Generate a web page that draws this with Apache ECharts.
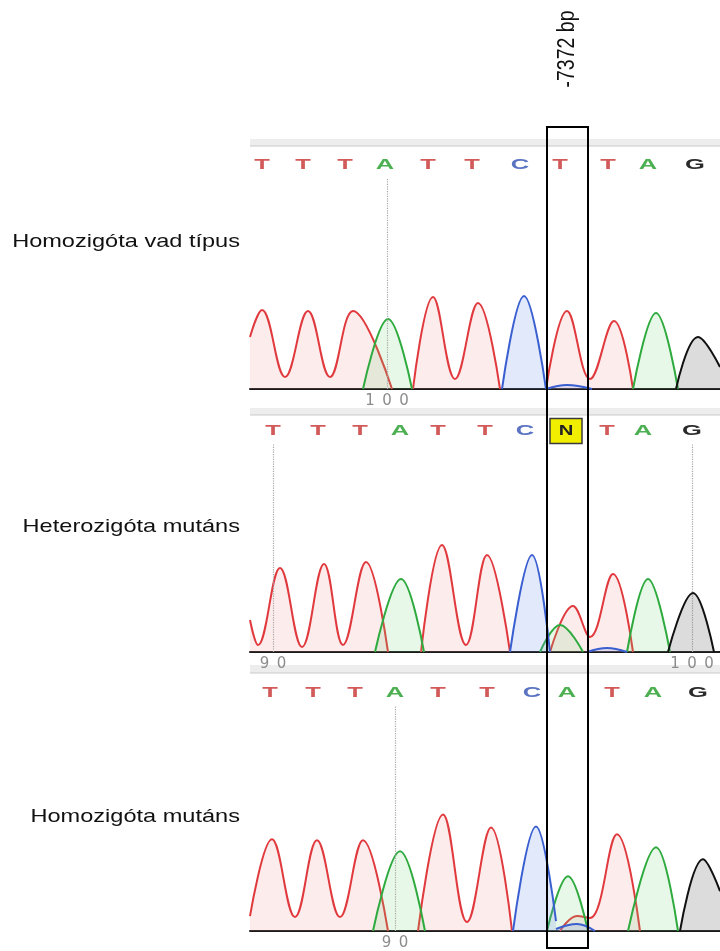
<!DOCTYPE html>
<html><head><meta charset="utf-8">
<script src="https://cdn.jsdelivr.net/npm/echarts@6/dist/echarts.min.js"></script>
<style>html,body{margin:0;padding:0;background:#fff}#c{width:720px;height:951px}</style>
</head><body><div id="c"></div>
<script>
// ---- data ----
const sampleLabels = ['Homozigóta vad típus', 'Heterozigóta mutáns', 'Homozigóta mutáns'];
const positionLabel = '-7372 bp';
const highlightRange = [547, 588];

const bases1 = ['T','T','T','A','T','T','C','T','T','A','G'];
const basePos1 = [262,303,345,385,428,472,520,560,608,648,695];
const bases2 = ['T','T','T','A','T','T','C','N','T','A','G'];
const basePos2 = [273,318,360,400,438,485,525,566,607,643,692];
const bases3 = ['T','T','T','A','T','T','C','A','T','A','G'];
const basePos3 = [270,313,355,395,438,487,532,567,612,653,698];

const tickPos1 = [387], tickLabels1 = ['100'];
const tickPos2 = [273, 692], tickLabels2 = ['90', '100'];
const tickPos3 = [395], tickLabels3 = ['90'];

// traces: list of continuous segments of [scan position, signal]
const traceT1 = [
  [[250,52],[262,79],[285,12],[308,78],[330,12],[353,78],[392,0]],
  [[413,0],[433,92],[455,10],[478,86],[500,0]],
  [[546,0],[567,78],[590,10],[614,68],[633,0]]
];
const traceA1 = [[[363,0],[388,70],[412,0]], [[633,0],[656,76],[678,0]]];
const traceC1 = [[[502,0],[524,93],[546,0]], [[546,0],[567,4],[592,0]]];
const traceG1 = [[[676,0],[698,52],[720,22]]];

const traceT2 = [
  [[250,32],[258,7],[280,84],[302,5],[324,88],[343,7],[366,90],[388,0]],
  [[421,0],[442,107],[466,7],[487,97],[510,0]],
  [[550,0],[573,46],[590,15],[613,78],[633,0]]
];
const traceA2 = [[[375,0],[401,73],[424,0]], [[540,0],[560,27],[583,0]], [[627,0],[648,73],[670,0]]];
const traceC2 = [[[510,0],[532,97],[550,0]], [[587,0],[607,4],[627,0]]];
const traceG2 = [[[668,0],[693,59],[714,0]]];

const traceT3 = [
  [[250,15],[272,92],[295,14],[317,91],[340,14],[363,91],[388,0]],
  [[418,0],[443,117],[467,9],[491,104],[512,0]],
  [[560,0],[577,15],[590,13],[617,97],[640,0]]
];
const traceA3 = [[[373,0],[400,80],[425,0]], [[547,0],[568,55],[588,0]], [[628,0],[656,84],[678,0]]];
const traceC3 = [[[513,0],[536,105],[556,10]], [[556,2],[577,7],[595,0]]];
const traceG3 = [[[680,0],[703,72],[720,40]]];

// ---- layout / style ----
const panels = [
  {top:145, base:389, letterY:165, labelY:242, bases:bases1, pos:basePos1, ticks:tickPos1, tickLabels:tickLabels1, traces:[traceT1,traceA1,traceC1,traceG1], band:[139,146]},
  {top:409, base:652, letterY:431, labelY:527, bases:bases2, pos:basePos2, ticks:tickPos2, tickLabels:tickLabels2, traces:[traceT2,traceA2,traceC2,traceG2], band:[408,415]},
  {top:669, base:932, letterY:693, labelY:817, bases:bases3, pos:basePos3, ticks:tickPos3, tickLabels:tickLabels3, traces:[traceT3,traceA3,traceC3,traceG3], band:[665,673]}
];
const lineColors = ['#e03a3e', '#2eaa3e', '#3a5fd0', '#111111'];
const fillColors = ['rgba(240,140,140,0.24)', 'rgba(120,215,120,0.24)', 'rgba(120,150,235,0.3)', 'rgba(110,110,110,0.34)'];
const letterColors = {T:'#d25a5a', A:'#4cb052', C:'#5a74c2', G:'#2a2a2a', N:'#222'};
const FONT = '"Liberation Sans", Arial, sans-serif';

const chart = echarts.init(document.getElementById('c'), null, {renderer:'canvas'});

const grid = [], xAxis = [], yAxis = [], series = [];
panels.forEach((p, i) => {
  grid.push({left:250, right:0, top:p.top, height:p.base - p.top});
  xAxis.push({
    type:'value', gridIndex:i, min:250, max:720,
    axisLine:{show:true, onZero:false, lineStyle:{color:'#1a1a1a', width:2}},
    axisTick:{show:false}, splitLine:{show:false},
    axisLabel:{
      show:true, customValues:p.ticks, margin:5,
      formatter:(v) => {
        const k = p.ticks.indexOf(v);
        if (k < 0) return '';
        return p.tickLabels[k].split('').map(ch => '{d|' + ch + '}').join('');
      },
      rich:{d:{width:17, align:'center', color:'#8c8c8c', fontSize:15, fontFamily:'"DejaVu Sans", sans-serif'}}
    }
  });
  yAxis.push({type:'value', gridIndex:i, min:0, max:p.base - p.top, show:false});
  const letterVal = p.base - p.letterY;
  p.traces.forEach((segs, c) => {
    segs.forEach((seg, si) => {
      const s = {
        type:'line', xAxisIndex:i, yAxisIndex:i, data:seg, smooth:0.4,
        showSymbol:false, clip:true, silent:true,
        lineStyle:{color:lineColors[c], width:2},
        areaStyle:{color:fillColors[c]},
        z:2 + c
      };
      if (c === 0 && si === 0) {
        s.markLine = {
          symbol:'none', silent:true, label:{show:false}, animation:false,
          lineStyle:{type:'dotted', color:'#a8a8a8', width:1.2},
          data:p.ticks.map(x => [{coord:[x, 0]}, {coord:[x, letterVal - 13]}])
        };
      }
      series.push(s);
    });
  });
  series.push({
    type:'custom', xAxisIndex:i, yAxisIndex:i, z:10, silent:true,
    data:p.pos.map(x => [x, letterVal]),
    renderItem:(params, api) => {
      const pt = api.coord([api.value(0), api.value(1)]);
      const b = p.bases[params.dataIndex];
      const txt = {
        type:'text', x:pt[0], y:pt[1], scaleX:1.7,
        style:{text:b, x:0, y:0, fill:letterColors[b], font:'bold 15px ' + FONT, align:'center', verticalAlign:'middle'}
      };
      if (b === 'N') {
        return {type:'group', children:[
          {type:'rect', shape:{x:pt[0]-16, y:pt[1]-12.5, width:32, height:25}, style:{fill:'#f2ee00', stroke:'#3a3a3a', lineWidth:1.5}},
          Object.assign({}, txt, {scaleX:1.35})
        ]};
      }
      return txt;
    }
  });
});

chart.setOption({animation:false, backgroundColor:'#fff', grid, xAxis, yAxis, series});

// ---- annotations ----
const x0 = chart.convertToPixel({xAxisIndex:0}, highlightRange[0]);
const x1 = chart.convertToPixel({xAxisIndex:0}, highlightRange[1]);
const graphic = [];
panels.forEach((p, i) => {
  graphic.push({type:'rect', z:0, silent:true, shape:{x:250, y:p.band[0], width:470, height:p.band[1]-p.band[0]}, style:{fill:'#ededed'}});
  graphic.push({type:'line', z:0, silent:true, shape:{x1:250, y1:p.band[1], x2:720, y2:p.band[1]}, style:{stroke:'#c9c9c9', lineWidth:1}});
  graphic.push({
    type:'text', x:240, y:p.labelY, scaleX:1.24, silent:true,
    style:{text:sampleLabels[i], font:'19px ' + FONT, fill:'#111', align:'right', verticalAlign:'middle'}
  });
});
graphic.push({
  type:'rect', z:100, silent:true,
  shape:{x:x0, y:127, width:x1 - x0, height:821},
  style:{fill:'none', stroke:'#000', lineWidth:2}
});
graphic.push({
  type:'text', x:(x0 + x1) / 2, y:49, rotation:Math.PI / 2, scaleY:1.22, silent:true,
  style:{text:positionLabel, font:'19.5px ' + FONT, fill:'#111', align:'center', verticalAlign:'middle'}
});
chart.setOption({graphic});
</script>
</body></html>
